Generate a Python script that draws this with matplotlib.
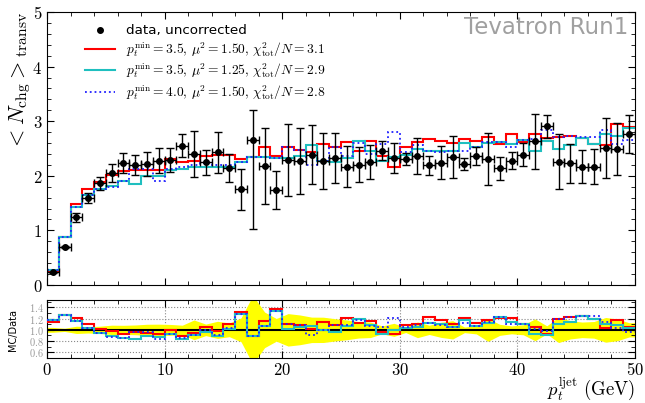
import numpy as np
import matplotlib
matplotlib.use('Agg')
import matplotlib.pyplot as plt
from matplotlib.lines import Line2D
from matplotlib.ticker import MultipleLocator, FuncFormatter

plt.rcParams['mathtext.fontset'] = 'cm'
plt.rcParams['font.family'] = 'DejaVu Sans'

# bins: 1 GeV wide from 0 to 50
edges = np.arange(0, 51, 1)
centers = 0.5 * (edges[:-1] + edges[1:])

# data, uncorrected
data_y = [0.23, 0.70, 1.24, 1.60, 1.86, 2.05, 2.23, 2.20, 2.22, 2.28,
          2.29, 2.55, 2.40, 2.25, 2.43, 2.14, 1.75, 2.65, 2.18, 1.74,
          2.29, 2.27, 2.39, 2.27, 2.33, 2.17, 2.20, 2.26, 2.46, 2.33,
          2.31, 2.37, 2.19, 2.24, 2.34, 2.21, 2.36, 2.31, 2.14, 2.28,
          2.39, 2.63, 2.91, 2.26, 2.23, 2.17, 2.17, 2.51, 2.49, 2.77]
err_lo = [0.01, 0.02, 0.08, 0.09, 0.12, 0.17, 0.18, 0.19, 0.22, 0.23,
          0.22, 0.21, 0.42, 0.23, 0.37, 0.26, 0.37, 1.62, 0.69, 0.35,
          0.66, 0.60, 0.54, 0.51, 0.46, 0.38, 0.32, 0.31, 0.17, 0.27,
          0.11, 0.33, 0.18, 0.30, 0.38, 0.11, 0.17, 0.47, 0.21, 0.16,
          0.21, 0.51, 0.21, 0.51, 0.36, 0.30, 0.32, 0.55, 0.48, 0.35]
err_hi = [0.01, 0.02, 0.08, 0.09, 0.12, 0.17, 0.18, 0.19, 0.22, 0.23,
          0.22, 0.21, 0.42, 0.23, 0.37, 0.26, 0.37, 0.55, 0.69, 0.35,
          0.66, 0.60, 0.54, 0.51, 0.46, 0.38, 0.32, 0.31, 0.17, 0.27,
          0.11, 0.33, 0.18, 0.30, 0.38, 0.11, 0.17, 0.47, 0.21, 0.16,
          0.21, 0.51, 0.21, 0.51, 0.36, 0.30, 0.32, 0.55, 0.48, 0.35]

# MC predictions
mc_red = [0.26, 0.88, 1.49, 1.76, 1.88, 2.02, 2.08, 2.10, 2.10, 2.10,
          2.30, 2.25, 2.28, 2.36, 2.38, 2.38, 2.30, 2.35, 2.52, 2.37,
          2.52, 2.48, 2.44, 2.59, 2.52, 2.62, 2.46, 2.63, 2.37, 2.16,
          2.52, 2.62, 2.68, 2.63, 2.60, 2.68, 2.63, 2.71, 2.59, 2.76,
          2.62, 2.76, 2.70, 2.71, 2.72, 2.69, 2.59, 2.57, 2.94, 2.90]
mc_cyan = [0.27, 0.88, 1.43, 1.64, 1.76, 1.82, 1.91, 1.85, 1.99, 1.99,
           2.11, 2.13, 2.16, 2.17, 2.16, 2.16, 2.25, 2.34, 2.34, 2.32,
           2.32, 2.37, 2.56, 2.28, 2.25, 2.32, 2.63, 2.45, 2.27, 2.34,
           2.38, 2.49, 2.46, 2.46, 2.46, 2.60, 2.52, 2.60, 2.62, 2.59,
           2.65, 2.45, 2.63, 2.49, 2.56, 2.70, 2.59, 2.77, 2.72, 2.87]
mc_blue = [0.27, 0.88, 1.43, 1.64, 1.76, 1.80, 1.90, 2.13, 2.13, 1.91,
           2.13, 2.17, 2.19, 2.23, 2.20, 2.20, 2.25, 2.34, 2.34, 2.32,
           2.52, 2.48, 2.19, 2.28, 2.52, 2.36, 2.60, 2.40, 2.59, 2.80,
           2.43, 2.56, 2.46, 2.44, 2.46, 2.46, 2.52, 2.62, 2.62, 2.52,
           2.65, 2.68, 2.83, 2.71, 2.72, 2.71, 2.71, 2.84, 2.59, 2.66]

labels = [r'$p_t^{\rm min}=3.5,\,\mu^2=1.50,\,\chi^2_{\rm tot}/N=3.1$',
          r'$p_t^{\rm min}=3.5,\,\mu^2=1.25,\,\chi^2_{\rm tot}/N=2.9$',
          r'$p_t^{\rm min}=4.0,\,\mu^2=1.50,\,\chi^2_{\rm tot}/N=2.8$']
colors = ['#ff0000', '#1fbfbf', '#2020ff']
styles = ['-', '-', ':']
widths = [1.5, 1.5, 1.3]
series = [mc_red, mc_cyan, mc_blue]

data_y = np.array(data_y)
err_lo = np.array(err_lo)
err_hi = np.array(err_hi)

fig = plt.figure(figsize=(6.45, 4.03), dpi=100)
ax = fig.add_axes([47/645, 1-285/403, 588/645, 273/403])
rax = fig.add_axes([47/645, 1-358/403, 588/645, 58/403])

# --- main panel
for vals, c, ls, lw in zip(series, colors, styles, widths):
    ax.stairs(vals, edges, color=c, linestyle=ls, linewidth=lw, baseline=None)
ax.errorbar(centers, data_y, yerr=[err_lo, err_hi], xerr=0.5, fmt='o', color='black',
            ms=4, elinewidth=1, capsize=2.8, capthick=1, zorder=5)

ax.set_xlim(0, 50)
ax.set_ylim(0, 5)
ax.xaxis.set_major_locator(MultipleLocator(10))
ax.xaxis.set_minor_locator(MultipleLocator(2))
ax.yaxis.set_major_locator(MultipleLocator(1))
ax.yaxis.set_minor_locator(MultipleLocator(0.2))
ax.tick_params(which='both', direction='in', top=True, right=True, labelbottom=False)
ax.tick_params(which='major', length=5)
ax.tick_params(which='minor', length=3)
ax.yaxis.set_major_formatter(FuncFormatter(lambda v, p: r'$%d$' % v))
ax.tick_params(axis='y', labelsize=12)

handles = [Line2D([], [], marker='o', color='black', ls='none', ms=4)]
handles += [Line2D([], [], color=c, ls=ls, lw=lw) for c, ls, lw in zip(colors, styles, widths)]
ax.legend(handles, ['data, uncorrected'] + labels, loc='upper left',
          bbox_to_anchor=(0.065, 0.955), frameon=False, fontsize=9.7,
          handlelength=2.2, handletextpad=0.85, labelspacing=0.2,
          borderpad=0, borderaxespad=0)

fig.text(628/645, 1-28/403, 'Tevatron Run1', color='#a0a0a0', fontsize=16.5,
         ha='right', va='center')
fig.text(20/645, 1-12/403, r'$<N_{\rm chg}>_{\rm transv}$', rotation=90,
         fontsize=16, ha='center', va='top')

# --- ratio panel
rel = np.maximum(err_lo, err_hi) / data_y
bx = np.r_[0, centers, 50]
blo = np.r_[1 - rel[0], 1 - rel, 1 - rel[-1]]
bhi = np.r_[1 + rel[0], 1 + rel, 1 + rel[-1]]
rax.fill_between(bx, blo, bhi, color='#ffff00', lw=0, zorder=1)
for y in [0.6, 0.8, 1.0, 1.2, 1.4]:
    rax.axhline(y, color='#888888', ls=':', lw=0.8, zorder=0)
for x in [10, 20, 30, 40]:
    rax.axvline(x, color='#888888', ls=':', lw=0.8, zorder=0)
rax.axhline(1.0, color='black', lw=1.5, zorder=2)
for vals, c, ls, lw in zip(series, colors, styles, widths):
    rax.stairs(np.array(vals) / data_y, edges, color=c, linestyle=ls, linewidth=lw,
               baseline=None, zorder=3)

rax.set_xlim(0, 50)
rax.set_ylim(0.5, 1.53)
rax.xaxis.set_major_locator(MultipleLocator(10))
rax.xaxis.set_minor_locator(MultipleLocator(2))
rax.set_yticks([0.6, 0.8, 1.0, 1.2, 1.4])
rax.yaxis.set_minor_locator(MultipleLocator(0.1))
rax.tick_params(which='both', direction='in', top=True, right=True)
rax.tick_params(which='major', length=5)
rax.tick_params(which='minor', length=3)
rax.yaxis.set_major_formatter(FuncFormatter(lambda v, p: r'$%.1f$' % v))
rax.xaxis.set_major_formatter(FuncFormatter(lambda v, p: r'$%d$' % v))
rax.tick_params(axis='y', labelsize=7.5, labelcolor='#999999', pad=2)
rax.tick_params(axis='x', labelsize=12, pad=2)

fig.text(13/645, 1-330/403, 'MC/Data', rotation=90, fontsize=7, ha='center', va='center')
fig.text(635/645, 1/403, r'$p_t^{\rm ljet}\ {\rm (GeV)}$', fontsize=13.5,
         ha='right', va='bottom')

fig.savefig('out.png', dpi=100)
